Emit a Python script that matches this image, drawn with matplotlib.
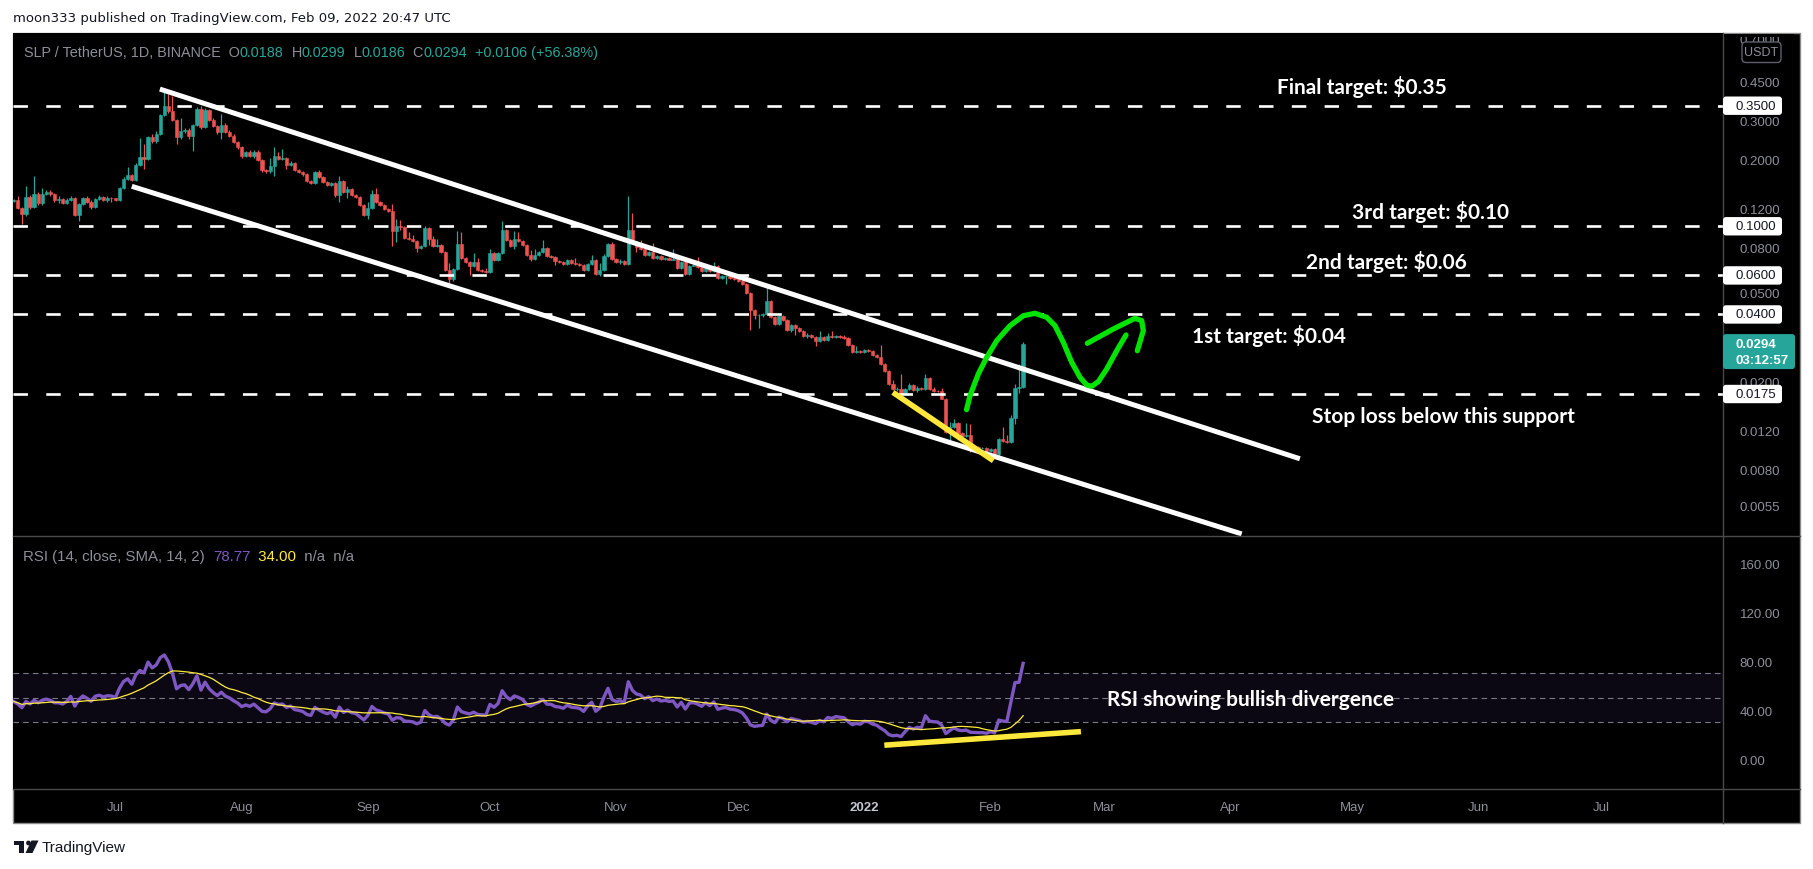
import numpy as np
import pandas as pd
import matplotlib
matplotlib.use("Agg")
import matplotlib.pyplot as plt
from matplotlib.patches import Rectangle, FancyBboxPatch, Circle, Polygon
from matplotlib.ticker import NullLocator

plt.rcParams["font.family"] = ["Liberation Sans", "DejaVu Sans"]
plt.rcParams["lines.scale_dashes"] = False

# ---- SLP / USDT daily candles, 2021-06-06 .. 2022-02-09 ----
first_day = "2021-06-06"
first_open = 0.1300
closes = [
    # Jun
    0.1310, 0.1210, 0.1136, 0.1360, 0.1217, 0.1398, 0.1273, 0.1398, 0.1433, 0.1398,
    0.1318, 0.1327, 0.1270, 0.1318, 0.1340, 0.1125, 0.1260, 0.1340, 0.1290, 0.1226,
    0.1327, 0.1350, 0.1318, 0.1340, 0.1335,
    # Jul
    0.1313, 0.1483, 0.1635, 0.1700, 0.1623, 0.1890, 0.2047, 0.2010, 0.2538, 0.2434,
    0.2600, 0.3180, 0.3480, 0.3325, 0.3030, 0.2520, 0.2700, 0.2730, 0.2564, 0.2865,
    0.3380, 0.2796, 0.3350, 0.3030, 0.2825, 0.2655, 0.2865, 0.2655, 0.2564, 0.2410,
    0.2287,
    # Aug
    0.2083, 0.2156, 0.2083, 0.2170, 0.1990, 0.1800, 0.1776, 0.1877, 0.2076, 0.2012,
    0.2025, 0.1890, 0.1930, 0.1794, 0.1763, 0.1721, 0.1606, 0.1567, 0.1751, 0.1663,
    0.1590, 0.1535, 0.1567, 0.1388, 0.1606, 0.1422, 0.1472, 0.1388, 0.1360, 0.1252,
    0.1128,
    # Sep
    0.1213, 0.1398, 0.1291, 0.1252, 0.1197, 0.1168, 0.0955, 0.0999, 0.0989, 0.0882,
    0.0876, 0.0861, 0.0798, 0.0818, 0.0982, 0.0876, 0.0818, 0.0826, 0.0763, 0.0635,
    0.0578, 0.0642, 0.0832, 0.0720, 0.0688, 0.0664, 0.0688, 0.0637, 0.0631, 0.0624,
    # Oct
    0.0758, 0.0707, 0.0758, 0.0966, 0.0870, 0.0818, 0.0880, 0.0857, 0.0825, 0.0743,
    0.0713, 0.0743, 0.0764, 0.0799, 0.0733, 0.0730, 0.0700, 0.0693, 0.0677, 0.0705,
    0.0681, 0.0677, 0.0670, 0.0636, 0.0677, 0.0705, 0.0610, 0.0636, 0.0733, 0.0833,
    0.0713,
    # Nov
    0.0688, 0.0696, 0.0677, 0.0957, 0.0853, 0.0805, 0.0791, 0.0743, 0.0769, 0.0718,
    0.0738, 0.0713, 0.0720, 0.0708, 0.0713, 0.0647, 0.0688, 0.0610, 0.0665, 0.0670,
    0.0654, 0.0631, 0.0660, 0.0631, 0.0660, 0.0585, 0.0595, 0.0599, 0.0583, 0.0579,
    # Dec
    0.0569, 0.0550, 0.0501, 0.0417, 0.0396, 0.0399, 0.0401, 0.0458, 0.0390, 0.0362,
    0.0392, 0.0378, 0.0341, 0.0358, 0.0347, 0.0338, 0.0321, 0.0324, 0.0316, 0.0304,
    0.0315, 0.0306, 0.0321, 0.0315, 0.0321, 0.0317, 0.0314, 0.0291, 0.0271, 0.0274,
    0.0270,
    # Jan
    0.0277, 0.0274, 0.0262, 0.0256, 0.0239, 0.0223, 0.0194, 0.0184, 0.0185, 0.0175,
    0.0184, 0.0192, 0.0183, 0.0186, 0.0184, 0.0206, 0.0184, 0.0181, 0.0180, 0.0167,
    0.0118, 0.0124, 0.0129, 0.0117, 0.0113, 0.0114, 0.0102, 0.0101, 0.0100, 0.0100,
    0.0097,
    # Feb
    0.0099, 0.0094, 0.0110, 0.0107, 0.0106, 0.0136, 0.0187, 0.0188, 0.0294,
]
# wick length above / below the body, in % of the body edge
wick_up = [
    1, 5, 1, 12, 2, 20, 2, 6, 2, 2, 1, 3, 1, 2, 2, 1, 1, 1, 2, 2, 1, 2, 1, 2, 1,
    1, 1, 2, 9, 1, 2, 22, 15, 1, 3, 3, 1, 18, 13, 17, 1, 14, 2, 2, 1, 2, 3, 2, 1, 2, 1, 12, 2, 2, 2, 1,
    1, 1, 2, 2, 2, 1, 1, 8, 10, 4, 10, 1, 2, 1, 1, 1, 1, 1, 1, 2, 1, 1, 1, 1, 5, 1, 3, 1, 1, 1, 1,
    6, 4, 7, 1, 1, 1, 8, 8, 7, 1, 7, 4, 1, 1, 2, 1, 3, 6, 1, 1, 7, 1, 14, 13, 1, 1, 10, 5, 1, 3,
    4, 1, 1, 9, 1, 1, 8, 7, 1, 1, 5, 6, 1, 9, 1, 1, 1, 1, 1, 1, 1, 6, 1, 1, 1, 5, 1, 7, 2, 1, 2,
    1, 2, 1, 43, 20, 1, 8, 1, 1, 9, 1, 1, 1, 1, 11, 1, 1, 1, 1, 1, 9, 1, 1, 1, 5, 1, 1, 1, 4, 1,
    2, 1, 1, 1, 2, 1, 1, 20, 2, 1, 1, 1, 1, 1, 1, 1, 1, 2, 1, 1, 7, 1, 3, 5, 1, 1, 2, 1, 1, 5, 1,
    1, 1, 1, 1, 14, 1, 1, 4, 2, 17, 1, 2, 1, 2, 1, 5, 1, 2, 1, 4, 1, 5, 5, 1, 1, 13, 12, 1, 1, 1, 1,
    1, 1, 1, 13, 7, 3, 4, 27, 2,
]
wick_dn = [
    1, 1, 10, 2, 2, 1, 2, 2, 1, 2, 2, 3, 1, 1, 1, 1, 6, 1, 1, 2, 1, 1, 1, 2, 4,
    1, 1, 1, 1, 1, 1, 1, 10, 1, 2, 2, 1, 1, 2, 1, 7, 2, 2, 3, 15, 1, 2, 1, 1, 1, 2, 7, 1, 1, 1, 2,
    2, 1, 1, 2, 1, 2, 2, 2, 10, 1, 1, 4, 1, 1, 1, 2, 1, 1, 1, 1, 1, 1, 1, 2, 7, 1, 6, 1, 1, 1, 1,
    4, 1, 1, 1, 1, 1, 15, 11, 3, 1, 1, 1, 4, 1, 1, 6, 1, 1, 1, 1, 4, 2, 1, 1, 1, 9, 1, 1, 1, 1,
    1, 1, 1, 1, 1, 1, 3, 1, 1, 1, 2, 1, 1, 1, 1, 1, 4, 1, 1, 1, 1, 1, 1, 1, 1, 1, 1, 2, 1, 1, 1,
    1, 2, 1, 1, 1, 5, 1, 1, 1, 1, 1, 1, 1, 1, 1, 1, 1, 1, 1, 1, 1, 1, 1, 1, 1, 1, 1, 8, 1, 1,
    1, 1, 1, 18, 4, 12, 2, 1, 1, 1, 1, 1, 1, 2, 7, 1, 1, 2, 1, 5, 1, 1, 1, 1, 1, 1, 1, 1, 1, 1, 1,
    1, 1, 1, 1, 1, 1, 1, 1, 2, 1, 1, 1, 1, 2, 1, 1, 1, 1, 1, 1, 1, 9, 1, 1, 1, 1, 6, 1, 1, 1, 1,
    1, 1, 5, 1, 1, 1, 6, 5, 1,
]
# RSI of the first 14 days (before a full 14-day window exists)
rsi_head = [47, 45, 42, 47, 45, 48, 46, 48, 49, 48, 46, 46, 45, 47]

target_levels = [0.35, 0.10, 0.06, 0.04, 0.0175]
last_price = 0.0294
price_ticks = [0.7, 0.45, 0.3, 0.2, 0.12, 0.08, 0.05, 0.02, 0.012, 0.008, 0.0055]
rsi_ticks = [0, 40, 80, 120, 160]
month_starts = ["2021-07-01", "2021-08-01", "2021-09-01", "2021-10-01", "2021-11-01",
                "2021-12-01", "2022-01-01", "2022-02-01", "2022-03-01", "2022-04-01",
                "2022-05-01", "2022-06-01", "2022-07-01"]
month_labels = ["Jul", "Aug", "Sep", "Oct", "Nov", "Dec", "2022", "Feb", "Mar", "Apr",
                "May", "Jun", "Jul"]

# drawings, anchored as (days since 2021-07-01, price)
channel_top_d, channel_top_p = [10.9, 291.0], [0.416, 0.00893]
channel_bot_d, channel_bot_p = [4.0, 276.7], [0.1515, 0.00409]
wedge_d, wedge_p = [191.0, 215.7], [0.0178, 0.00875]
path_d = [209.1, 209.95, 211.99, 214.05, 216.51, 219.78, 223.05, 225.92, 228.8, 230.84,
          232.87, 234.94, 236.98, 238.62, 239.85, 241.47, 243.54, 245.99, 248.28]
path_p = [0.01487, 0.0172, 0.02155, 0.02562, 0.03045, 0.03558, 0.03948, 0.04048, 0.03883,
          0.03558, 0.02995, 0.02433, 0.02082, 0.01922, 0.01896, 0.01989, 0.02269, 0.02744, 0.03231]
head_d = [238.77, 245.16, 250.49, 252.14, 252.53, 251.06]
head_p = [0.02964, 0.03439, 0.03843, 0.03749, 0.03379, 0.02744]
rsi_line_d, rsi_line_v = [188.9, 237.2], [11.3, 22.4]

if not (len(closes) == len(wick_up) == len(wick_dn) == 249):
    raise ValueError((len(closes), len(wick_up), len(wick_dn)))

TEAL, RED = "#26a69a", "#ef5350"
GREY = "#8c8f99"
LINE = "#4a4a4a"
YELLOW = "#ffe83b"
GREEN = "#00e400"
PURPLE = "#7e57c2"

W, H = 1813, 870
L, R = 12.7, 1723
TOP, MID, BOT = 34, 537, 790

base = np.datetime64("2021-07-01")
dates = np.datetime64(first_day) + np.arange(len(closes))
x = (dates - base).astype(int)

c = np.array(closes)
o = np.r_[first_open, c[:-1]]
top = np.maximum(o, c)
bot = np.minimum(o, c)
hi = top * (1 + np.array(wick_up) / 100)
lo = bot * (1 - np.array(wick_dn) / 100)
col = np.where(c >= o, TEAL, RED)

# RSI 14 (Wilder) + SMA 14
diff = np.diff(c)
gain = np.clip(diff, 0, None)
loss = np.clip(-diff, 0, None)
rsi = np.full(len(c), np.nan)
rsi[:14] = rsi_head
ag, al = gain[:14].mean(), loss[:14].mean()
rsi[14] = 100 - 100 / (1 + ag / al)
for i in range(15, len(c)):
    ag = (ag * 13 + gain[i - 1]) / 14
    al = (al * 13 + loss[i - 1]) / 14
    rsi[i] = 100 - 100 / (1 + ag / al)
rsi_ma = pd.Series(rsi).rolling(14, min_periods=1).mean().values

fig = plt.figure(figsize=(W / 100, H / 100), dpi=100, facecolor="white")

bg = fig.add_axes([0, 0, 1, 1], zorder=0)
bg.set_xlim(0, W)
bg.set_ylim(H, 0)
bg.axis("off")
bg.add_patch(Rectangle((L, TOP), 1800 - L, 824 - TOP, fc="black", ec="#8a8a8a", lw=1))

ax = fig.add_axes([L / W, 1 - MID / H, (R - L) / W, (MID - TOP) / H], zorder=1)
rax = fig.add_axes([L / W, 1 - BOT / H, (R - L) / W, (BOT - MID) / H], zorder=1)
for a in (ax, rax):
    a.set_facecolor("black")
    for s in a.spines.values():
        s.set_visible(False)
    a.set_xlim(-25.26, 394.96)

# price pane
ax.set_yscale("log")
ax.set_ylim(0.004002, 0.745)
ax.vlines(x, lo, hi, colors=col, lw=0.9, zorder=2)
ax.bar(x, top - bot, bottom=bot, width=0.8, color=col, edgecolor=col, linewidth=0.4, zorder=3)

for lvl in target_levels:
    ax.axhline(lvl, color="white", lw=1.9, dashes=(10.4, 13.2), zorder=4)
ax.plot(channel_top_d, channel_top_p, color="white", lw=3.6, solid_capstyle="butt", zorder=5)
ax.plot(channel_bot_d, channel_bot_p, color="white", lw=3.6, solid_capstyle="butt", zorder=5)
ax.plot(wedge_d, wedge_p, color=YELLOW, lw=4.0, solid_capstyle="butt", zorder=6)
ax.plot(path_d, path_p, color=GREEN, lw=3.8, solid_capstyle="round", solid_joinstyle="round", zorder=6)
ax.plot(head_d, head_p, color=GREEN, lw=3.8, solid_capstyle="round", solid_joinstyle="round", zorder=6)

ax.yaxis.tick_right()
ax.set_yticks(price_ticks)
ax.set_yticklabels([f"{t:.4f}" for t in price_ticks])
ax.yaxis.set_minor_locator(NullLocator())
ax.tick_params(axis="y", length=0, pad=12, labelcolor=GREY, labelsize=9.5)
ax.tick_params(axis="x", bottom=False, labelbottom=False)

# RSI pane
rax.set_ylim(-24.5, 182.3)
rax.axhspan(30, 70, color=PURPLE, alpha=0.1, lw=0, zorder=1)
for lv in (70, 50, 30):
    rax.axhline(lv, color="#787b86", lw=0.8, dashes=(4, 3), zorder=2)
rax.plot(x, rsi, color=PURPLE, lw=2.4, zorder=4)
rax.plot(x, rsi_ma, color="#ffeb3b", lw=0.9, zorder=5)
rax.plot(rsi_line_d, rsi_line_v, color=YELLOW, lw=4.0, solid_capstyle="butt", zorder=6)
rax.yaxis.tick_right()
rax.set_yticks(rsi_ticks)
rax.set_yticklabels([f"{t:.2f}" for t in rsi_ticks])
rax.tick_params(axis="y", length=0, pad=12, labelcolor=GREY, labelsize=9.5)
mx = (np.array(month_starts, dtype="datetime64[D]") - base).astype(int)
rax.set_xticks(mx)
rax.set_xticklabels(month_labels)
rax.tick_params(axis="x", length=0, pad=9, labelcolor=GREY, labelsize=9.5)
for lab in rax.get_xticklabels():
    if lab.get_text() == "2022":
        lab.set_color("#c3c6ce")
        lab.set_fontweight("bold")

# overlay: separators, scale labels, texts
ov = fig.add_axes([0, 0, 1, 1], zorder=5)
ov.set_xlim(0, W)
ov.set_ylim(H, 0)
ov.axis("off")
ov.patch.set_visible(False)
ov.plot([L, 1800], [MID, MID], color=LINE, lw=1)
ov.plot([L, 1800], [BOT, BOT], color=LINE, lw=1)
ov.plot([R, R], [TOP, 824], color=LINE, lw=1)


def y_of(axis, v):
    return H - axis.transData.transform((0, v))[1]


for lvl in target_levels:
    yy = y_of(ax, lvl)
    ov.add_patch(FancyBboxPatch((R, yy - 9.2), 59, 18.4, boxstyle="round,pad=0,rounding_size=3",
                                fc="white", ec="none", zorder=3))
    ov.text(1735, yy, f"{lvl:.4f}", color="#131722", fontsize=9.5, va="center", ha="left", zorder=4)

yy = y_of(ax, last_price)
ov.add_patch(FancyBboxPatch((R, yy - 10), 72, 35, boxstyle="round,pad=0,rounding_size=3",
                            fc=TEAL, ec="none", zorder=3))
ov.text(1735, yy, f"{last_price:.4f}", color="white", fontsize=9.5, fontweight="bold",
        va="center", ha="left", zorder=4)
ov.text(1735, yy + 16, "03:12:57", color="white", fontsize=9.5, fontweight="bold",
        va="center", ha="left", zorder=4)

# black strip hides the top of the 0.7000 label, as in the screenshot
ov.add_patch(Rectangle((R + 1, TOP + 0.5), 70, 3.5, fc="black", ec="none", zorder=2))
ov.add_patch(FancyBboxPatch((1742, 43), 39, 20.5, boxstyle="round,pad=0,rounding_size=4",
                            fc="black", ec="#5d606b", lw=1, zorder=3))
ov.text(1761.5, 53.5, "USDT", color=GREY, fontsize=9, va="center", ha="center", zorder=4)


def chain(x0, y0, parts, size):
    t = ov.text(x0, y0, parts[0][0], color=parts[0][1], fontsize=size, va="center", ha="left")
    for s, cc in parts[1:]:
        t = ov.annotate(s, xy=(1, 0), xycoords=t, xytext=(0, 0), textcoords="offset points",
                        color=cc, fontsize=size, va="bottom", ha="left")


chain(24, 53, [("SLP / TetherUS, 1D, BINANCE  O", GREY), ("0.0188", TEAL), ("  H", GREY),
               ("0.0299", TEAL), ("  L", GREY), ("0.0186", TEAL), ("  C", GREY),
               ("0.0294", TEAL), ("  +0.0106 (+56.38%)", TEAL)], 10.4)
chain(23, 557.5, [("RSI (14, close, SMA, 14, 2)  ", GREY), ("78.77", PURPLE),
                  ("  34.00", "#ffeb3b"), ("  n/a  n/a", GREY)], 10.8)

ov.text(13, 18.5, "moon333 published on TradingView.com, Feb 09, 2022 20:47 UTC",
        color="#131722", fontsize=9.5, family="DejaVu Sans", va="center", ha="left")

note_font = dict(color="white", fontsize=15, fontweight="bold", family=["Lato", "DejaVu Sans"],
                 va="center", ha="center", zorder=6)
ov.text(1362, 87, "Final target: $0.35", **note_font)
ov.text(1430, 211.7, "3rd target: $0.10", **note_font)
ov.text(1386, 261.7, "2nd target: $0.06", **note_font)
ov.text(1269, 335.7, "1st target: $0.04", **note_font)
ov.text(1443, 416.7, "Stop loss below this support", **note_font)
ov.text(1251, 700, "RSI showing bullish divergence", **note_font)

# TradingView footer logo
DARK = "#131722"
ov.add_patch(Rectangle((13.5, 841.5), 10.5, 4.5, fc=DARK, ec="none"))
ov.add_patch(Rectangle((18.5, 841.5), 5.5, 12.5, fc=DARK, ec="none"))
ov.add_patch(Circle((28.5, 844), 2.4, fc=DARK, ec="none"))
ov.add_patch(Polygon([(31.5, 841.5), (38.5, 841.5), (32.5, 854), (25.5, 854)], fc=DARK, ec="none"))
ov.text(42, 848, "TradingView", color=DARK, fontsize=11, va="center", ha="left")

fig.savefig("out.png", dpi=100, facecolor="white")
